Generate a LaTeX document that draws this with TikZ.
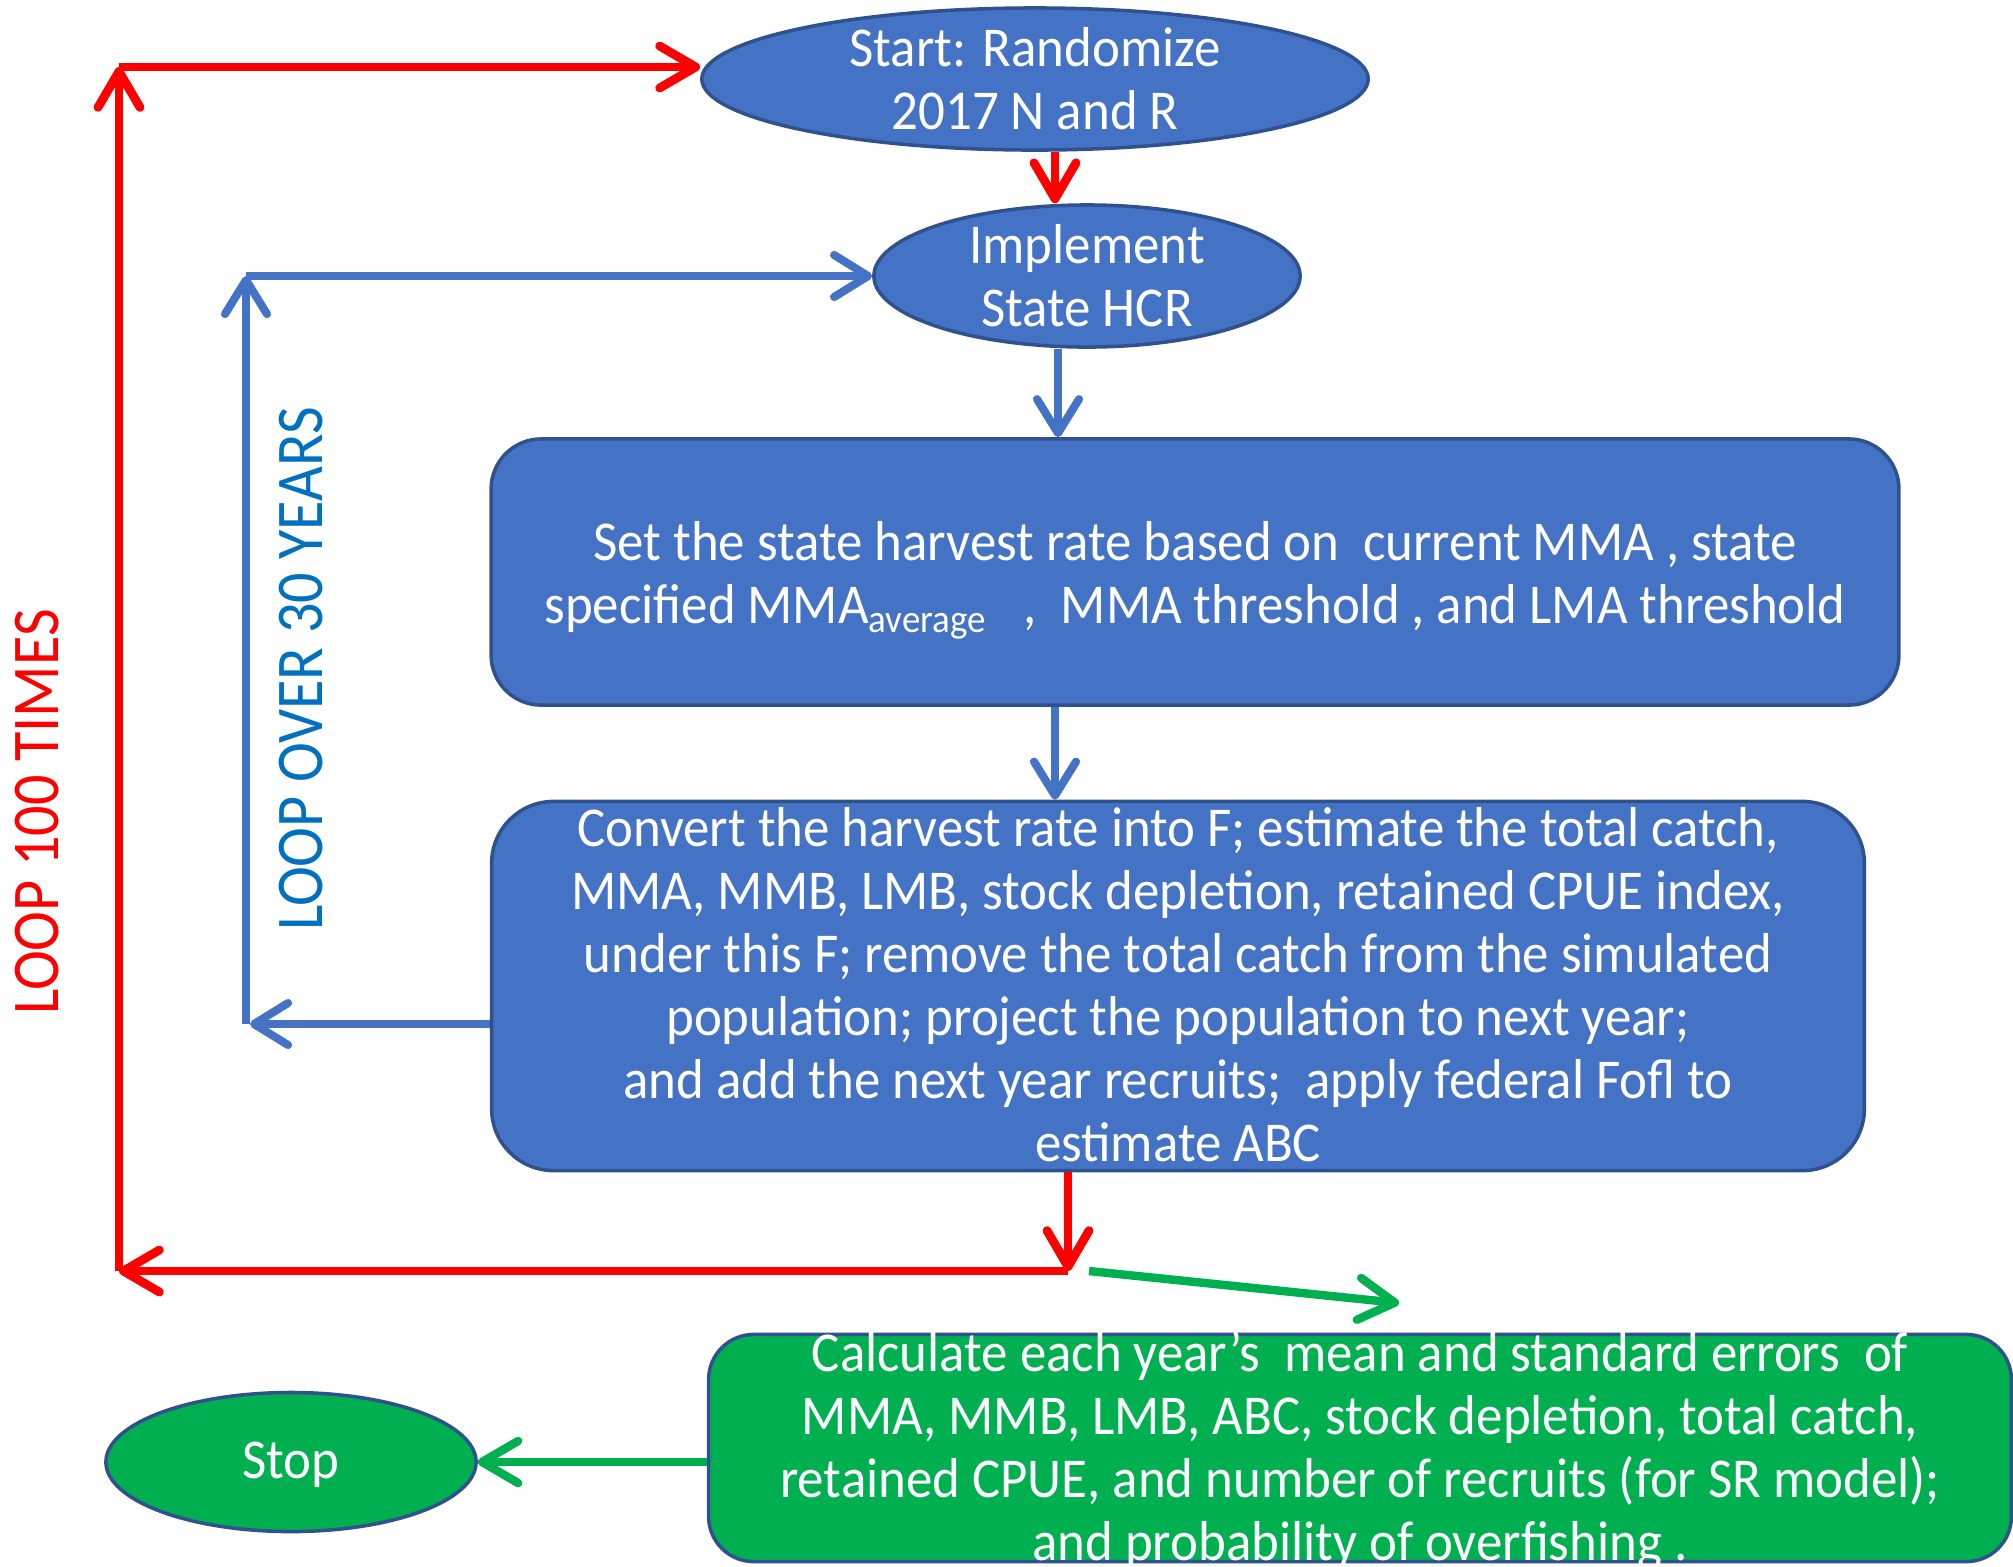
\documentclass[tikz,border=0pt]{standalone}
\usepackage{fontspec}
\setmainfont{Carlito}
\newfontfamily\cf[FakeStretch=0.94]{Carlito}
\newfontfamily\lf[FakeStretch=0.9]{Carlito}
\usetikzlibrary{arrows.meta,shapes.geometric}
\definecolor{bfill}{HTML}{4472C4}
\definecolor{bdraw}{HTML}{2F528F}
\definecolor{gfill}{HTML}{00B050}
\definecolor{tblue}{HTML}{0070C0}
\definecolor{rline}{HTML}{FF0000}
\begin{document}
\begin{tikzpicture}[x=0.01cm,y=-0.01cm,
  bshape/.style={fill=bfill,draw=bdraw,line width=1pt},
  gshape/.style={fill=gfill,draw=bdraw,line width=1pt},
  ell/.style={ellipse,inner sep=0pt},
  box/.style={rectangle,inner sep=0pt},
  txt/.style={text=white,align=center,inner sep=0pt,font=\cf\fontsize{16}{17.9}\selectfont},
  looptxt/.style={rotate=90,inner sep=0pt,font=\lf\fontsize{19}{21}\selectfont},
  redarr/.style={draw=rline,line width=2.5pt,-{Straight Barb[length=3.6mm,width=4.2mm,round]}},
  bluearr/.style={draw=bfill,line width=2.3pt,-{Straight Barb[length=3.4mm,width=4.2mm,round]}},
  greenarr/.style={draw=gfill,line width=2.4pt,-{Straight Barb[length=3.6mm,width=4.2mm,round]}}]
\useasboundingbox (0,0) rectangle (2013,1566);

% shapes
\node[bshape,ell,minimum width=6.66cm,minimum height=1.42cm] (start) at (1035,79) {};
\node[txt] (startT) at (start) {Start: Randomize\\2017 N and R};

\node[bshape,ell,minimum width=4.26cm,minimum height=1.42cm] (impl) at (1087,276) {};
\node[txt] (implT) at (impl) {Implement\\State HCR};

\node[bshape,box,rounded corners=0.5cm,minimum width=14.07cm,minimum height=2.66cm] (r1) at (1195,572) {};
\node[txt] (r1T) at (1195,580) {Set the state harvest rate based on\ \ current MMA , state\\
specified MMA\textsubscript{average}\ \ \ ,\ \ MMA threshold , and LMA threshold};

\node[bshape,box,rounded corners=0.62cm,minimum width=13.72cm,minimum height=3.69cm] (r2) at (1178,986) {};
\node[txt] (r2T) at (1178,985) {Convert the harvest rate into F; estimate the total catch,\\
MMA, MMB, LMB, stock depletion, retained CPUE index,\\
under this F; remove the total catch from the simulated\\
population; project the population to next year;\\
and add the next year recruits;\ \ apply federal Fofl to\\
estimate ABC};

\node[gshape,box,rounded corners=0.45cm,minimum width=13.02cm,minimum height=2.27cm] (gr) at (1360,1448) {};
\node[txt] (grT) at (1360,1451) {Calculate each year’s\ \ mean and standard errors\ \ of\\
MMA, MMB, LMB, ABC, stock depletion, total catch,\\
retained CPUE, and number of recruits (for SR model);\\
and probability of overfishing .};

\node[gshape,ell,minimum width=3.7cm,minimum height=1.39cm] (stop) at (291,1462) {};
\node[txt] (stopT) at (291,1465) {Stop};

% loop labels
\node[looptxt,text=rline] (loop100) at (37,812) {LOOP 100 TIMES};
\node[looptxt,text=tblue] (loop30) at (301,669) {LOOP OVER 30 YEARS};

% helper coordinates
\coordinate (xa) at (1055,0);
\coordinate (xb) at (1058,0);
\coordinate (xc) at (1055,0);
\coordinate (rm) at (1068,1271);
\coordinate (rcb) at (119,1271);
\coordinate (rct) at (119,67);
\coordinate (bcb) at (246,1024);
\coordinate (bct) at (246,276);
\coordinate (bend) at (250,1024);
\coordinate (g1) at (1089,1271);
\coordinate (g2) at (1399,1303);

% connectors
\draw[redarr] (start.south -| xa) -- (impl.north -| xa);
\draw[bluearr] (impl.south -| xb) -- (r1.north -| xb);
\draw[bluearr] (r1.south -| xc) -- (r2.north -| xc);
\draw[bluearr] (r2.west |- bcb) -- (bend);
\draw[bluearr] (bcb) -- (bct);
\draw[bluearr] (bct) -- (impl.west);
\draw[redarr] (r2.south -| rm) -- (rm);
\draw[redarr] (rm) -- (rcb);
\draw[redarr] (rcb) -- (rct);
\draw[redarr] (rct) -- (rct -| start.west);
\draw[greenarr] (g1) -- (g2);
\draw[greenarr] (gr.west |- stop.east) -- (stop.east);
\end{tikzpicture}
\end{document}
